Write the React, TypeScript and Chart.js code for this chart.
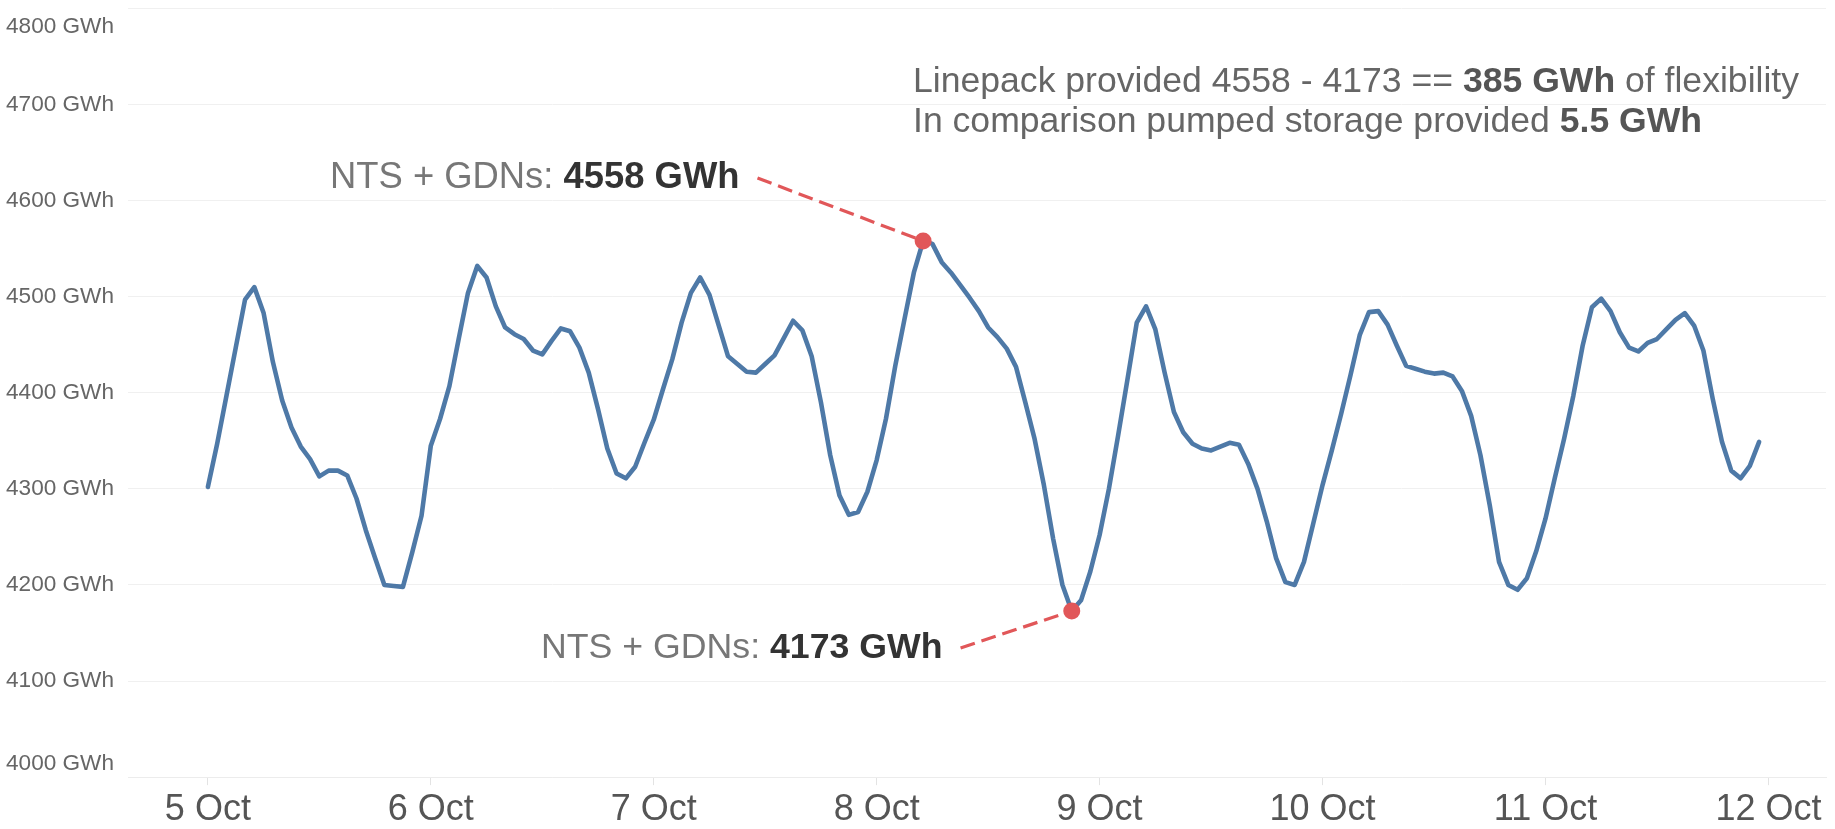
import React, { useEffect, useRef } from 'react';
import { Chart, registerables } from 'chart.js';

Chart.register(...registerables);

// ---- data ----
const dayLabels = ['5 Oct', '6 Oct', '7 Oct', '8 Oct', '9 Oct', '10 Oct', '11 Oct', '12 Oct'];
const dayTickHours = [0, 24, 48, 72, 96, 120, 144, 168];
const yTickValues = [4000, 4100, 4200, 4300, 4400, 4500, 4600, 4700, 4800];
const yTickLabels = ['4000 GWh', '4100 GWh', '4200 GWh', '4300 GWh', '4400 GWh', '4500 GWh', '4600 GWh', '4700 GWh', '4800 GWh'];

// hourly linepack (NTS + GDNs), GWh, from 5 Oct 00:00
const linepack = [
  // 5 Oct
  4302, 4347, 4397, 4447, 4497, 4510, 4483, 4432, 4392, 4364, 4344, 4331,
  4313, 4319, 4319, 4314, 4290, 4257, 4228, 4200, 4199, 4198, 4234, 4272,
  // 6 Oct
  4345, 4373, 4407, 4456, 4504, 4532, 4520, 4490, 4468, 4461, 4456, 4444,
  4440, 4454, 4467, 4464, 4447, 4421, 4383, 4342, 4316, 4311, 4323, 4348,
  // 7 Oct
  4372, 4404, 4435, 4473, 4504, 4520, 4502, 4470, 4438, 4430, 4422, 4421,
  4430, 4439, 4457, 4475, 4465, 4438, 4390, 4335, 4293, 4273, 4276, 4297,
  // 8 Oct
  4330, 4373, 4428, 4477, 4525, 4558, 4555, 4536, 4525, 4512, 4499, 4485,
  4468, 4458, 4446, 4427, 4390, 4352, 4304, 4248, 4200, 4173, 4184, 4214,
  // 9 Oct
  4252, 4300, 4356, 4414, 4473, 4490, 4466, 4421, 4380, 4359, 4347, 4342,
  4340, 4344, 4348, 4346, 4326, 4300, 4266, 4228, 4203, 4200, 4224, 4264,
  // 10 Oct
  4304, 4340, 4378, 4418, 4460, 4484, 4485, 4471, 4449, 4428, 4425, 4422,
  4420, 4421, 4417, 4402, 4376, 4335, 4283, 4224, 4200, 4195, 4207, 4235,
  // 11 Oct
  4269, 4311, 4352, 4397, 4449, 4489, 4498, 4485, 4463, 4447, 4443, 4452,
  4456, 4466, 4476, 4483, 4470, 4444, 4394, 4349, 4319, 4311, 4324, 4349,
];

const markedHours = [77, 93];
const markedValues = [4558, 4173];
const markedLabels = ['4558 GWh', '4173 GWh'];
const markedPrefix = 'NTS + GDNs: ';

const FONT = '"Liberation Sans", Arial, Helvetica, sans-serif';
const RED = '#e15759';
const BLUE = '#4e79a7';
const HEAD_SIZE = 35.6;

type Part = { text: string; bold?: boolean; color: string };

function drawRich(ctx: CanvasRenderingContext2D, parts: Part[], x: number, y: number, size: number) {
  let cx = x;
  ctx.textAlign = 'left';
  ctx.textBaseline = 'middle';
  for (const p of parts) {
    ctx.font = `${p.bold ? 'bold ' : ''}${size}px ${FONT}`;
    ctx.fillStyle = p.color;
    ctx.fillText(p.text, cx, y);
    cx += ctx.measureText(p.text).width;
  }
  return cx;
}

const labelPos = [
  { x: 330, y: 178, size: 36.4 },
  { x: 541, y: 648, size: 35.7 },
];

const annotationPlugin = {
  id: 'annotations',
  beforeDatasetsDraw(chart: any) {
    const { ctx, scales } = chart;
    const xs = scales.x, ys = scales.y;
    ctx.save();
    ctx.strokeStyle = RED;
    ctx.lineWidth = 3.2;
    ctx.setLineDash([15, 7]);
    labelPos.forEach((a, i) => {
      ctx.font = `${a.size}px ${FONT}`;
      let w = ctx.measureText(markedPrefix).width;
      ctx.font = `bold ${a.size}px ${FONT}`;
      w += ctx.measureText(markedLabels[i]).width;
      const sx = a.x + w + 18;
      const px = xs.getPixelForValue(markedHours[i]);
      const py = ys.getPixelForValue(markedValues[i]);
      ctx.beginPath();
      ctx.moveTo(sx, a.y);
      ctx.lineTo(px, py);
      ctx.stroke();
    });
    ctx.restore();
  },
  afterDraw(chart: any) {
    const { ctx, scales } = chart;
    const ys = scales.y;
    ctx.save();
    // y tick labels
    ctx.font = `22.6px ${FONT}`;
    ctx.fillStyle = '#666';
    ctx.textAlign = 'left';
    ctx.textBaseline = 'middle';
    yTickValues.forEach((v, i) => {
      let py = ys.getPixelForValue(v);
      if (i === 0) py -= 13;
      if (i === yTickValues.length - 1) py += 18;
      ctx.fillText(yTickLabels[i], 6, py);
    });
    // marker labels
    labelPos.forEach((p, i) => {
      drawRich(ctx, [
        { text: markedPrefix, color: '#777' },
        { text: markedLabels[i], bold: true, color: '#333' },
      ], p.x, p.y, p.size);
    });
    // headline
    drawRich(ctx, [
      { text: 'Linepack provided 4558 - 4173 == ', color: '#666' },
      { text: '385 GWh', bold: true, color: '#555' },
      { text: ' of flexibility', color: '#666' },
    ], 913, 82, HEAD_SIZE);
    drawRich(ctx, [
      { text: 'In comparison pumped storage provided ', color: '#666' },
      { text: '5.5 GWh', bold: true, color: '#555' },
    ], 913, 122, HEAD_SIZE);
    ctx.restore();
  },
};

export default function App() {
  const ref = useRef<HTMLCanvasElement | null>(null);
  useEffect(() => {
    document.body.style.margin = '0';
    document.body.style.overflow = 'hidden';
    document.body.style.background = '#ffffff';
    const canvas = ref.current!;
    const chart = new Chart(canvas, {
      type: 'line',
      data: {
        datasets: [
          {
            label: 'Marked',
            data: markedHours.map((h, i) => ({ x: h, y: markedValues[i] })),
            showLine: false,
            pointRadius: 8.5,
            pointHoverRadius: 8.5,
            pointBackgroundColor: RED,
            pointBorderWidth: 0,
            borderColor: RED,
          },
          {
            label: 'Linepack',
            data: linepack.map((v, i) => ({ x: i, y: v })),
            borderColor: BLUE,
            borderWidth: 4.6,
            pointRadius: 0,
            tension: 0,
            borderJoinStyle: 'round',
            borderCapStyle: 'round',
          },
        ],
      },
      options: {
        responsive: false,
        animation: false,
        events: [],
        layout: { padding: { left: 128, right: 9, top: 5, bottom: -6 } },
        plugins: { legend: { display: false }, tooltip: { enabled: false } },
        scales: {
          x: {
            type: 'linear',
            min: -8.6,
            max: 174.2,
            afterBuildTicks: (s: any) => {
              s.ticks = dayTickHours.map((v) => ({ value: v }));
            },
            ticks: {
              autoSkip: false,
              maxRotation: 0,
              padding: 10,
              color: '#555',
              font: { family: FONT, size: 36, lineHeight: 0.83 },
              callback: (_v: any, i: number) => dayLabels[i],
            },
            grid: { drawOnChartArea: false, drawTicks: true, tickLength: 8, color: '#e3e3e3' },
            border: { display: true, color: '#ececec' },
          },
          y: {
            min: 4000,
            max: 4800,
            afterBuildTicks: (s: any) => {
              s.ticks = yTickValues.map((v) => ({ value: v }));
            },
            ticks: { display: false },
            grid: { color: '#f0f0f0', lineWidth: 1, drawTicks: false },
            border: { display: false },
          },
        },
      },
      plugins: [annotationPlugin],
    });
    return () => chart.destroy();
  }, []);
  return (
    <div style={{ width: 1835, height: 829 }}>
      <canvas ref={ref} width={1835} height={829} />
    </div>
  );
}
